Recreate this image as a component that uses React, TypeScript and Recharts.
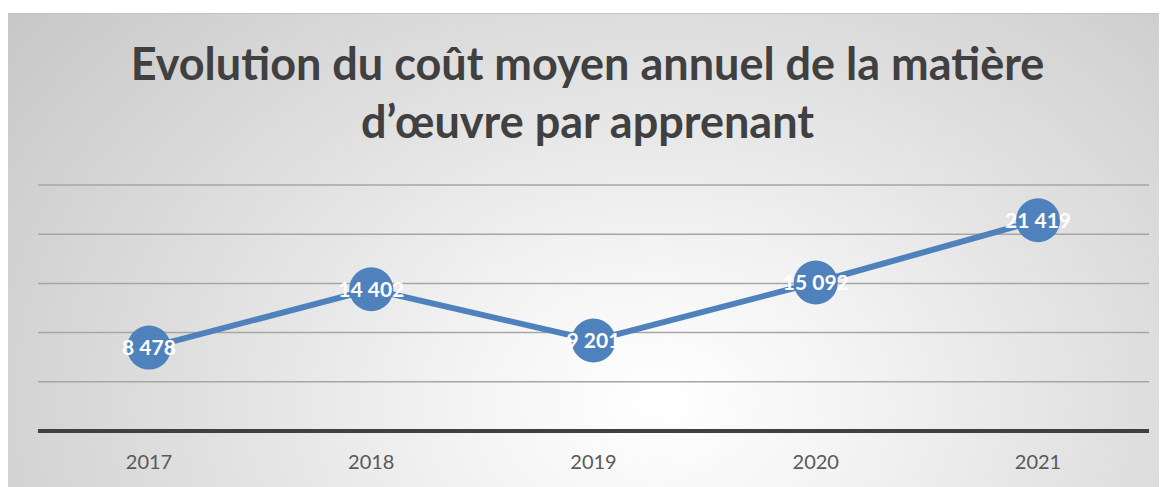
import React from "react";
import { LineChart, Line, XAxis, YAxis, CartesianGrid, LabelList } from "recharts";

const years = ["2017", "2018", "2019", "2020", "2021"];
const costs = [8478, 14402, 9201, 15092, 21419];
const yTicks = [0, 5000, 10000, 15000, 20000, 25000];
const titleLines = ["Evolution du coût moyen annuel de la matière", "d’œuvre par apprenant"];

const data = years.map((year, i) => ({ year, cost: costs[i] }));

const fmt = (v: any) => String(v).replace(/\B(?=(\d{3})+(?!\d))/g, " ");

const W = 1159;
const H = 474;

const YearTick = (props: any) => {
  const { x, y, payload } = props;
  return (
    <text x={x} y={y} dy={28} textAnchor="middle" dominantBaseline="central" fill="#595959" fontSize={20} fontFamily="Lato, sans-serif">
      {payload.value}
    </text>
  );
};

const App: React.FC = () => {
  return (
    <div
      style={{
        position: "relative",
        width: W,
        height: H,
        marginTop: 5,
        borderTop: "1px solid #c4c4c4",
        background:
          "radial-gradient(ellipse 75% 140% at 56% 82%, #ffffff 0%, #f4f4f4 22%, #e2e2e2 50%, #c4c4c4 100%)",
      }}
    >
      <div
        style={{
          position: "absolute",
          top: 20,
          left: 0,
          width: W,
          textAlign: "center",
          fontFamily: "Lato, sans-serif",
          fontWeight: 700,
          fontSize: 45,
          lineHeight: "58px",
          color: "#404040",
        }}
      >
        {titleLines.map((t) => (
          <div key={t}>{t}</div>
        ))}
      </div>
      <LineChart
        width={W}
        height={H}
        data={data}
        margin={{ top: 171, right: 18, bottom: 27, left: 30 }}
        style={{ position: "absolute", top: 0, left: 0 }}
      >
        <CartesianGrid vertical={false} stroke="#a6a6a6" strokeWidth={1.5} />
        <YAxis hide domain={[0, 25000]} ticks={yTicks} width={0} />
        <XAxis
          dataKey="year"
          axisLine={{ stroke: "#404040", strokeWidth: 4 }}
          tickLine={false}
          tickSize={0}
          tick={<YearTick />}
          interval={0}
          padding={{ left: 111, right: 111 }}
        />
        <Line
          type="linear"
          dataKey="cost"
          stroke="#4f81bd"
          strokeWidth={6}
          dot={{ r: 22, fill: "#4f81bd", stroke: "none" }}
          activeDot={false}
          isAnimationActive={false}
        >
          <LabelList
            dataKey="cost"
            position="center"
            formatter={fmt}
            fill="#ffffff"
            fontSize={21}
            fontWeight={700}
            fontFamily="Lato, sans-serif"
          />
        </Line>
      </LineChart>
    </div>
  );
};

export default App;
